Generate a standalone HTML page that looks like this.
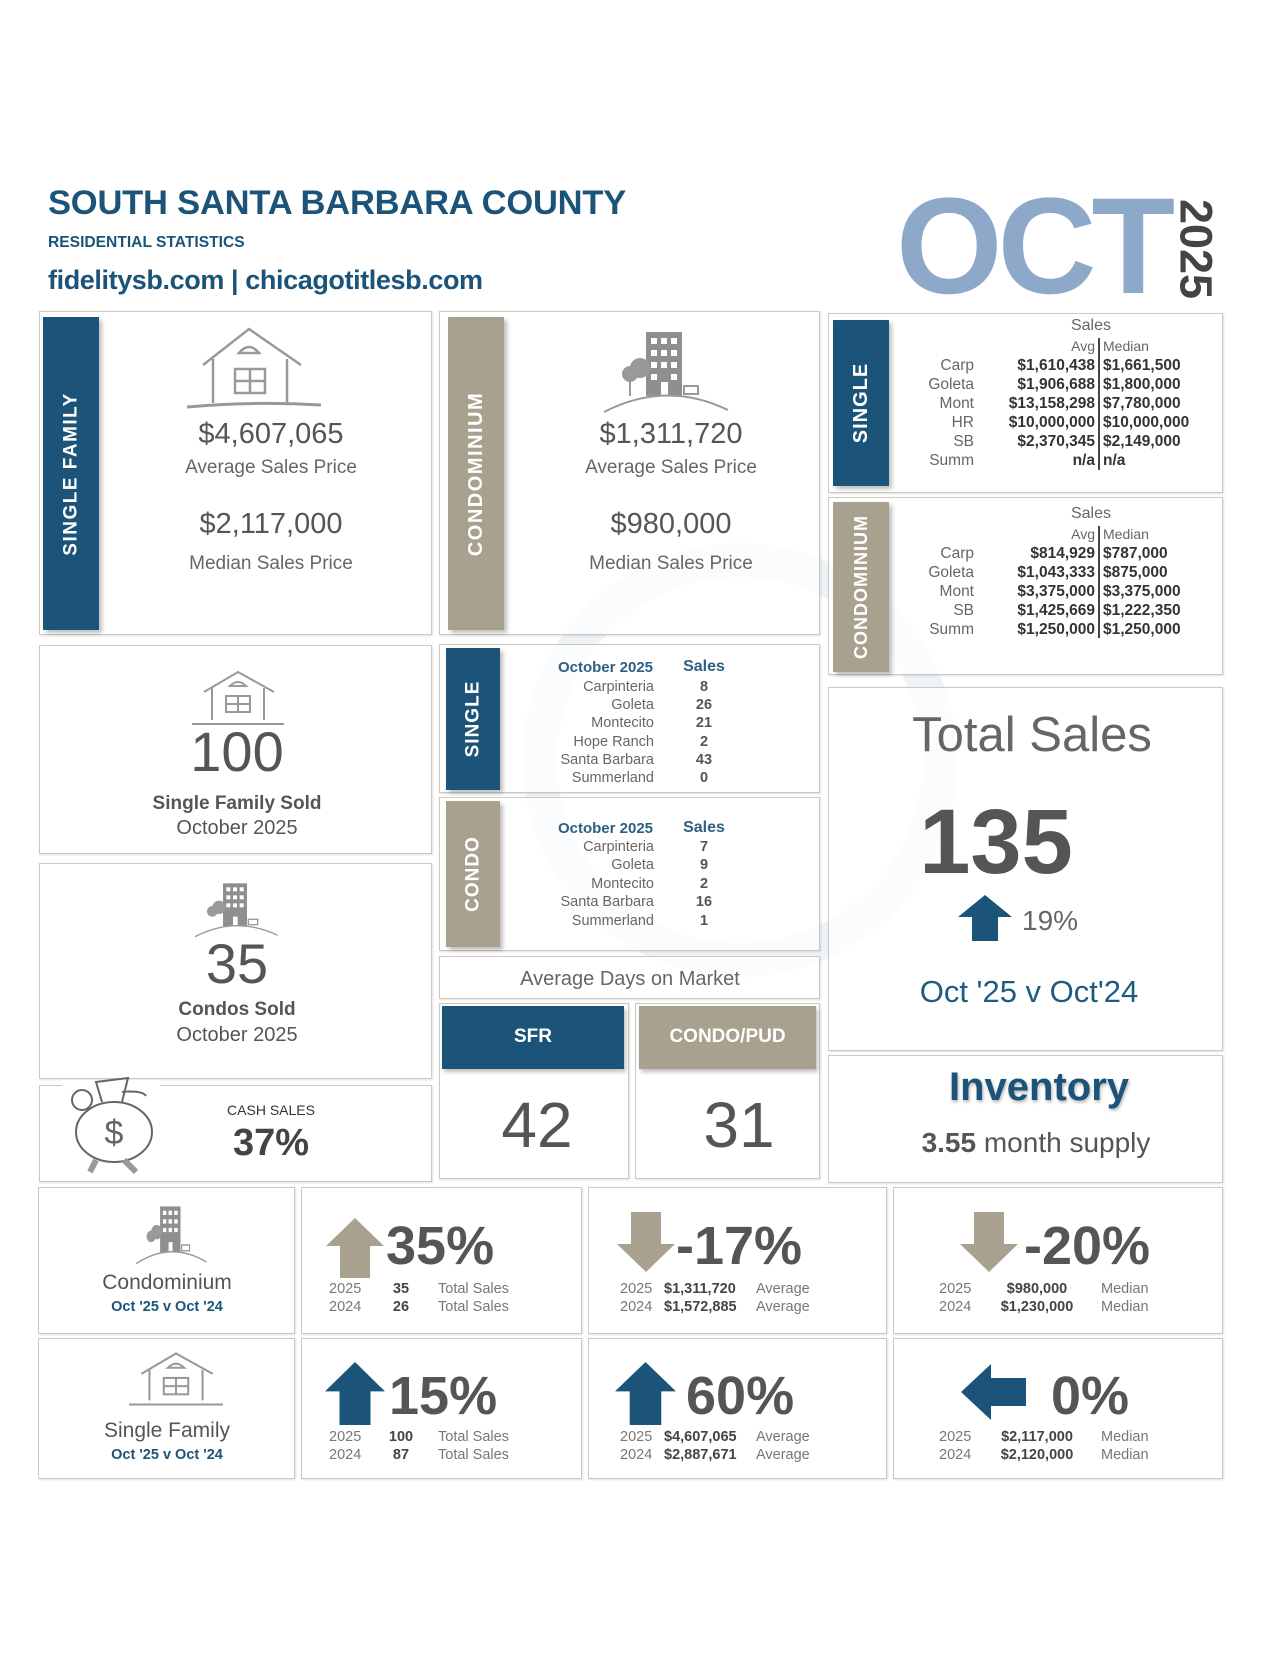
<!DOCTYPE html>
<html><head><meta charset="utf-8">
<style>
*{margin:0;padding:0;box-sizing:border-box}
body{width:1280px;height:1656px;background:#fff;position:relative;overflow:hidden;font-family:"Liberation Sans",sans-serif;color:#555}
.a{position:absolute}
.t{position:absolute;white-space:nowrap;line-height:1}
.c{text-align:center}
.r{text-align:right}
.b{font-weight:bold}
.box{position:absolute;border:1.5px solid #cdc9c0;box-shadow:1px 1px 2px rgba(0,0,0,.12);background:rgba(255,255,255,.7)}
.band{position:absolute;box-shadow:3px 3px 4px rgba(0,0,0,.25)}
.blue{background:#1b5478}
.tan{background:#a9a18f}
.vt{position:absolute;color:#fff;font-weight:bold;white-space:nowrap;line-height:1;transform:translate(-50%,-50%) rotate(-90deg);left:50%;top:50%}
</style></head>
<body>
<svg class="a" style="left:0;top:0" width="1280" height="1656">
<circle cx="740" cy="760" r="200" fill="none" stroke="#eef3f8" stroke-width="34"/>
</svg>

<div class="t b" style="left:48px;top:186px;font-size:34.5px;color:#1b5478;letter-spacing:-0.2px">SOUTH SANTA BARBARA COUNTY</div>
<div class="t b" style="left:48px;top:235px;font-size:15.6px;color:#1b5478">RESIDENTIAL STATISTICS</div>
<div class="t b" style="left:48px;top:267px;font-size:27px;color:#1b5478;letter-spacing:-0.4px">fidelitysb.com | chicagotitlesb.com</div>
<div class="t b" style="left:896px;top:178px;font-size:137px;color:#8ea8ca;letter-spacing:-5px">OCT</div>
<div class="t b" style="left:1196px;top:249px;font-size:45px;color:#444;transform:translate(-50%,-50%) rotate(90deg)">2025</div>

<!-- Single family box -->
<div class="box" style="left:39px;top:311px;width:393px;height:324px"></div>
<div class="band blue" style="left:43px;top:317px;width:56px;height:313px"><div class="vt" style="font-size:19px;letter-spacing:1.5px">SINGLE FAMILY</div></div>
<svg class="a" style="left:183px;top:325px" width="142" height="86" viewBox="0 0 142 86" fill="none" stroke="#999" stroke-width="2.5">
<path d="M20 40 L66 4 L118 40"/><path d="M30 34 V78 M104 34 V78"/><path d="M56 28 Q66 16 76 28 Z"/><rect x="52" y="44" width="30" height="24"/><path d="M67 44V68 M52 56H82"/><path d="M4 82 Q70 76 138 80" stroke-width="3"/></svg>
<div class="t c" style="left:71px;width:400px;top:420px;font-size:29px;color:#555">$4,607,065</div>
<div class="t c" style="left:71px;width:400px;top:458px;font-size:19px;color:#666">Average Sales Price</div>
<div class="t c" style="left:71px;width:400px;top:510px;font-size:29px;color:#555">$2,117,000</div>
<div class="t c" style="left:71px;width:400px;top:554px;font-size:19px;color:#666">Median Sales Price</div>

<!-- Condo box -->
<div class="box" style="left:439px;top:311px;width:381px;height:324px"></div>
<div class="band tan" style="left:448px;top:317px;width:56px;height:313px"><div class="vt" style="font-size:20px;letter-spacing:1.5px">CONDOMINIUM</div></div>
<svg class="a" style="left:600px;top:330px" width="134" height="84" viewBox="0 0 134 84">
<rect x="46" y="2" width="36" height="64" fill="#8f8f8f"/>
<g fill="#fff"><rect x="51" y="8" width="6" height="6"/><rect x="61" y="8" width="6" height="6"/><rect x="71" y="8" width="6" height="6"/><rect x="51" y="20" width="6" height="6"/><rect x="61" y="20" width="6" height="6"/><rect x="71" y="20" width="6" height="6"/><rect x="51" y="32" width="6" height="6"/><rect x="61" y="32" width="6" height="6"/><rect x="71" y="32" width="6" height="6"/><rect x="51" y="44" width="6" height="6"/><rect x="71" y="44" width="6" height="6"/><rect x="61" y="52" width="7" height="14"/></g>
<circle cx="30" cy="44" r="8" fill="#999"/><circle cx="40" cy="38" r="10" fill="#999"/><rect x="29" y="48" width="2" height="18" fill="#999"/><rect x="84" y="56" width="14" height="8" fill="none" stroke="#999" stroke-width="2"/>
<path d="M4 82 Q66 50 128 80" fill="none" stroke="#999" stroke-width="2"/></svg>
<div class="t c" style="left:471px;width:400px;top:420px;font-size:29px;color:#555">$1,311,720</div>
<div class="t c" style="left:471px;width:400px;top:458px;font-size:19px;color:#666">Average Sales Price</div>
<div class="t c" style="left:471px;width:400px;top:510px;font-size:29px;color:#555">$980,000</div>
<div class="t c" style="left:471px;width:400px;top:554px;font-size:19px;color:#666">Median Sales Price</div>

<!-- Right single table -->
<div class="box" style="left:828px;top:313px;width:395px;height:180px"></div>
<div class="band blue" style="left:833px;top:320px;width:56px;height:166px"><div class="vt" style="font-size:20px;letter-spacing:1px">SINGLE</div></div>
<div class="a" style="left:1098px;top:338px;width:1.5px;height:132px;background:#444"></div>
<div class="t c" style="left:1041px;width:100px;top:318px;font-size:16px;color:#666">Sales</div>
<div class="t r" style="left:1000px;width:95px;top:339px;font-size:14px;color:#666">Avg</div>
<div class="t" style="left:1103px;top:339px;font-size:14px;color:#666">Median</div>
<div style="font-size:15.5px">
<div class="t r" style="left:900px;width:74px;top:358px;color:#666">Carp</div><div class="t r b" style="left:980px;width:115px;top:358px;color:#333">$1,610,438</div><div class="t b" style="left:1103px;top:358px;color:#333">$1,661,500</div>
<div class="t r" style="left:900px;width:74px;top:377px;color:#666">Goleta</div><div class="t r b" style="left:980px;width:115px;top:377px;color:#333">$1,906,688</div><div class="t b" style="left:1103px;top:377px;color:#333">$1,800,000</div>
<div class="t r" style="left:900px;width:74px;top:396px;color:#666">Mont</div><div class="t r b" style="left:980px;width:115px;top:396px;color:#333">$13,158,298</div><div class="t b" style="left:1103px;top:396px;color:#333">$7,780,000</div>
<div class="t r" style="left:900px;width:74px;top:415px;color:#666">HR</div><div class="t r b" style="left:980px;width:115px;top:415px;color:#333">$10,000,000</div><div class="t b" style="left:1103px;top:415px;color:#333">$10,000,000</div>
<div class="t r" style="left:900px;width:74px;top:434px;color:#666">SB</div><div class="t r b" style="left:980px;width:115px;top:434px;color:#333">$2,370,345</div><div class="t b" style="left:1103px;top:434px;color:#333">$2,149,000</div>
<div class="t r" style="left:900px;width:74px;top:453px;color:#666">Summ</div><div class="t r b" style="left:980px;width:115px;top:453px;color:#333">n/a</div><div class="t b" style="left:1103px;top:453px;color:#333">n/a</div>
</div>

<!-- Right condo table -->
<div class="box" style="left:828px;top:497px;width:395px;height:178px"></div>
<div class="band tan" style="left:833px;top:502px;width:56px;height:170px"><div class="vt" style="font-size:18px;letter-spacing:1px">CONDOMINIUM</div></div>
<div class="a" style="left:1098px;top:526px;width:1.5px;height:112px;background:#444"></div>
<div class="t c" style="left:1041px;width:100px;top:506px;font-size:16px;color:#666">Sales</div>
<div class="t r" style="left:1000px;width:95px;top:527px;font-size:14px;color:#666">Avg</div>
<div class="t" style="left:1103px;top:527px;font-size:14px;color:#666">Median</div>
<div style="font-size:15.5px">
<div class="t r" style="left:900px;width:74px;top:546px;color:#666">Carp</div><div class="t r b" style="left:980px;width:115px;top:546px;color:#333">$814,929</div><div class="t b" style="left:1103px;top:546px;color:#333">$787,000</div>
<div class="t r" style="left:900px;width:74px;top:565px;color:#666">Goleta</div><div class="t r b" style="left:980px;width:115px;top:565px;color:#333">$1,043,333</div><div class="t b" style="left:1103px;top:565px;color:#333">$875,000</div>
<div class="t r" style="left:900px;width:74px;top:584px;color:#666">Mont</div><div class="t r b" style="left:980px;width:115px;top:584px;color:#333">$3,375,000</div><div class="t b" style="left:1103px;top:584px;color:#333">$3,375,000</div>
<div class="t r" style="left:900px;width:74px;top:603px;color:#666">SB</div><div class="t r b" style="left:980px;width:115px;top:603px;color:#333">$1,425,669</div><div class="t b" style="left:1103px;top:603px;color:#333">$1,222,350</div>
<div class="t r" style="left:900px;width:74px;top:622px;color:#666">Summ</div><div class="t r b" style="left:980px;width:115px;top:622px;color:#333">$1,250,000</div><div class="t b" style="left:1103px;top:622px;color:#333">$1,250,000</div>
</div>

<!-- SF sold -->
<div class="box" style="left:39px;top:645px;width:393px;height:209px"></div>
<svg class="a" style="left:190px;top:670px" width="96" height="56" viewBox="0 0 96 56" fill="none" stroke="#999" stroke-width="2">
<path d="M14 22 L48 2 L84 22"/><path d="M22 18V50 M74 18V50"/><path d="M40 16 Q48 8 56 16Z"/><rect x="36" y="26" width="24" height="16"/><path d="M48 26V42 M36 34H60"/><path d="M2 54H94"/></svg>
<div class="t c" style="left:37px;width:400px;top:724px;font-size:56px;color:#555">100</div>
<div class="t c b" style="left:37px;width:400px;top:794px;font-size:19px;color:#555">Single Family Sold</div>
<div class="t c" style="left:37px;width:400px;top:818px;font-size:20px;color:#555">October 2025</div>

<!-- Condo sold -->
<div class="box" style="left:39px;top:863px;width:393px;height:216px"></div>
<svg class="a" style="left:188px;top:882px" width="98" height="56" viewBox="0 0 134 84">
<rect x="46" y="2" width="36" height="64" fill="#8f8f8f"/>
<g fill="#fff"><rect x="51" y="8" width="6" height="6"/><rect x="61" y="8" width="6" height="6"/><rect x="71" y="8" width="6" height="6"/><rect x="51" y="20" width="6" height="6"/><rect x="61" y="20" width="6" height="6"/><rect x="71" y="20" width="6" height="6"/><rect x="51" y="32" width="6" height="6"/><rect x="61" y="32" width="6" height="6"/><rect x="71" y="32" width="6" height="6"/><rect x="61" y="52" width="7" height="14"/></g>
<circle cx="30" cy="44" r="8" fill="#999"/><circle cx="40" cy="38" r="10" fill="#999"/><rect x="84" y="56" width="14" height="8" fill="none" stroke="#999" stroke-width="2"/>
<path d="M4 82 Q66 50 128 80" fill="none" stroke="#999" stroke-width="2"/></svg>
<div class="t c" style="left:37px;width:400px;top:936px;font-size:56px;color:#555">35</div>
<div class="t c b" style="left:37px;width:400px;top:1000px;font-size:19px;color:#555">Condos Sold</div>
<div class="t c" style="left:37px;width:400px;top:1025px;font-size:20px;color:#555">October 2025</div>

<!-- Cash sales -->
<div class="box" style="left:39px;top:1085px;width:393px;height:97px"></div>
<svg class="a" style="left:62px;top:1072px" width="98" height="104" viewBox="0 0 98 104" fill="none" stroke="#666" stroke-width="2">
<rect x="0" y="8" width="98" height="96" fill="#fff" stroke="none"/>
<ellipse cx="52" cy="60" rx="38" ry="30" fill="#fff"/><path d="M40 30 L34 10 L66 6 L60 30"/><path d="M60 20 Q80 18 84 24"/><circle cx="20" cy="28" r="10" fill="#fff"/>
<text x="52" y="72" font-family="Liberation Sans" font-size="34" fill="#666" stroke="none" text-anchor="middle">$</text>
<path d="M34 88 L28 100 M62 88 L74 100" stroke-width="6" stroke="#999"/></svg>
<div class="t c" style="left:171px;width:200px;top:1103px;font-size:14px;color:#333">CASH SALES</div>
<div class="t c b" style="left:171px;width:200px;top:1124px;font-size:38px;color:#444">37%</div>

<!-- Middle single sales -->
<div class="box" style="left:439px;top:644px;width:381px;height:149px"></div>
<div class="band blue" style="left:446px;top:648px;width:54px;height:142px"><div class="vt" style="font-size:19px;letter-spacing:1px">SINGLE</div></div>
<div class="t r b" style="left:500px;width:153px;top:660px;font-size:15px;color:#2c5f80">October 2025</div>
<div class="t c b" style="left:664px;width:80px;top:659px;font-size:16px;color:#2c5f80">Sales</div>
<div style="font-size:14.5px">
<div class="t r" style="left:500px;width:154px;top:680px;color:#666">Carpinteria</div><div class="t c b" style="left:674px;width:60px;top:680px;color:#555">8</div>
<div class="t r" style="left:500px;width:154px;top:698px;color:#666">Goleta</div><div class="t c b" style="left:674px;width:60px;top:698px;color:#555">26</div>
<div class="t r" style="left:500px;width:154px;top:716px;color:#666">Montecito</div><div class="t c b" style="left:674px;width:60px;top:716px;color:#555">21</div>
<div class="t r" style="left:500px;width:154px;top:735px;color:#666">Hope Ranch</div><div class="t c b" style="left:674px;width:60px;top:735px;color:#555">2</div>
<div class="t r" style="left:500px;width:154px;top:753px;color:#666">Santa Barbara</div><div class="t c b" style="left:674px;width:60px;top:753px;color:#555">43</div>
<div class="t r" style="left:500px;width:154px;top:771px;color:#666">Summerland</div><div class="t c b" style="left:674px;width:60px;top:771px;color:#555">0</div>
</div>

<!-- Middle condo sales -->
<div class="box" style="left:439px;top:797px;width:381px;height:154px"></div>
<div class="band tan" style="left:446px;top:801px;width:54px;height:146px"><div class="vt" style="font-size:19px;letter-spacing:1px">CONDO</div></div>
<div class="t r b" style="left:500px;width:153px;top:821px;font-size:15px;color:#2c5f80">October 2025</div>
<div class="t c b" style="left:664px;width:80px;top:820px;font-size:16px;color:#2c5f80">Sales</div>
<div style="font-size:14.5px">
<div class="t r" style="left:500px;width:154px;top:840px;color:#666">Carpinteria</div><div class="t c b" style="left:674px;width:60px;top:840px;color:#555">7</div>
<div class="t r" style="left:500px;width:154px;top:858px;color:#666">Goleta</div><div class="t c b" style="left:674px;width:60px;top:858px;color:#555">9</div>
<div class="t r" style="left:500px;width:154px;top:877px;color:#666">Montecito</div><div class="t c b" style="left:674px;width:60px;top:877px;color:#555">2</div>
<div class="t r" style="left:500px;width:154px;top:895px;color:#666">Santa Barbara</div><div class="t c b" style="left:674px;width:60px;top:895px;color:#555">16</div>
<div class="t r" style="left:500px;width:154px;top:914px;color:#666">Summerland</div><div class="t c b" style="left:674px;width:60px;top:914px;color:#555">1</div>
</div>

<!-- Avg days -->
<div class="box" style="left:439px;top:956px;width:381px;height:43px"></div>
<div class="t c" style="left:430px;width:400px;top:969px;font-size:20px;color:#666">Average Days on Market</div>
<div class="box" style="left:439px;top:1003px;width:190px;height:176px"></div>
<div class="band blue" style="left:442px;top:1006px;width:182px;height:63px;box-shadow:2px 3px 4px rgba(0,0,0,.25)"></div>
<div class="t c b" style="left:442px;width:182px;top:1027px;font-size:19px;color:#fff">SFR</div>
<div class="t c" style="left:437px;width:200px;top:1093px;font-size:64px;color:#555">42</div>
<div class="box" style="left:635px;top:1003px;width:185px;height:176px"></div>
<div class="band tan" style="left:639px;top:1006px;width:177px;height:63px;box-shadow:2px 3px 4px rgba(0,0,0,.25)"></div>
<div class="t c b" style="left:639px;width:177px;top:1027px;font-size:19px;color:#fff">CONDO/PUD</div>
<div class="t c" style="left:639px;width:200px;top:1093px;font-size:64px;color:#555">31</div>

<!-- Total sales -->
<div class="box" style="left:828px;top:687px;width:395px;height:364px"></div>
<div class="t c" style="left:832px;width:400px;top:711px;font-size:49px;color:#666">Total Sales</div>
<div class="t c b" style="left:796px;width:400px;top:796px;font-size:92px;color:#555">135</div>
<svg class="a" style="left:958px;top:895px" width="54" height="46" viewBox="0 0 54 46"><polygon points="27,0 54,22 40,22 40,46 14,46 14,22 0,22" fill="#1b5478"/></svg>
<div class="t" style="left:1022px;top:907px;font-size:28px;color:#666">19%</div>
<div class="t c" style="left:829px;width:400px;top:976px;font-size:31px;color:#1f5a7f">Oct '25 v Oct'24</div>

<!-- Inventory -->
<div class="box" style="left:828px;top:1055px;width:395px;height:128px"></div>
<div class="t c b" style="left:839px;width:400px;top:1067px;font-size:40px;color:#1b5478;text-shadow:1px 2px 3px rgba(0,0,0,.3)">Inventory</div>
<div class="t c" style="left:836px;width:400px;top:1129px;font-size:28px;color:#555"><b>3.55</b> month supply</div>

<!-- Bottom row 1: condo -->
<div class="box" style="left:38px;top:1187px;width:257px;height:147px"></div>
<svg class="a" style="left:134px;top:1205px" width="76" height="60" viewBox="0 0 134 84" preserveAspectRatio="none">
<rect x="46" y="2" width="36" height="64" fill="#8f8f8f"/>
<g fill="#fff"><rect x="51" y="8" width="6" height="6"/><rect x="61" y="8" width="6" height="6"/><rect x="71" y="8" width="6" height="6"/><rect x="51" y="20" width="6" height="6"/><rect x="61" y="20" width="6" height="6"/><rect x="71" y="20" width="6" height="6"/><rect x="51" y="32" width="6" height="6"/><rect x="61" y="32" width="6" height="6"/><rect x="71" y="32" width="6" height="6"/><rect x="61" y="52" width="7" height="14"/></g>
<circle cx="30" cy="44" r="8" fill="#999"/><circle cx="40" cy="38" r="10" fill="#999"/><rect x="84" y="56" width="14" height="8" fill="none" stroke="#999" stroke-width="2"/>
<path d="M4 82 Q66 50 128 80" fill="none" stroke="#999" stroke-width="2"/></svg>
<div class="t c" style="left:67px;width:200px;top:1272px;font-size:21px;color:#555">Condominium</div>
<div class="t c b" style="left:67px;width:200px;top:1300px;font-size:14.5px;color:#1b5478">Oct '25 v Oct '24</div>

<div class="box" style="left:301px;top:1187px;width:281px;height:147px"></div>
<svg class="a" style="left:326px;top:1218px" width="58" height="60" viewBox="0 0 58 60"><polygon points="29,0 58,28 44,28 44,60 14,60 14,28 0,28" fill="#a9a18f"/></svg>
<div class="t b" style="left:386px;top:1219px;font-size:54px;color:#555">35%</div>
<div class="t" style="left:329px;top:1282px;font-size:14.5px;color:#777">2025</div><div class="t c b" style="left:381px;width:40px;top:1282px;font-size:14.5px;color:#444">35</div><div class="t" style="left:438px;top:1282px;font-size:14.5px;color:#777">Total Sales</div>
<div class="t" style="left:329px;top:1300px;font-size:14.5px;color:#777">2024</div><div class="t c b" style="left:381px;width:40px;top:1300px;font-size:14.5px;color:#444">26</div><div class="t" style="left:438px;top:1300px;font-size:14.5px;color:#777">Total Sales</div>

<div class="box" style="left:588px;top:1187px;width:299px;height:147px"></div>
<svg class="a" style="left:617px;top:1212px" width="58" height="60" viewBox="0 0 58 60"><polygon points="14,0 44,0 44,32 58,32 29,60 0,32 14,32" fill="#a9a18f"/></svg>
<div class="t b" style="left:676px;top:1219px;font-size:54px;color:#555">-17%</div>
<div class="t" style="left:620px;top:1282px;font-size:14.5px;color:#777">2025</div><div class="t b" style="left:664px;top:1282px;font-size:14.5px;color:#444">$1,311,720</div><div class="t" style="left:756px;top:1282px;font-size:14.5px;color:#777">Average</div>
<div class="t" style="left:620px;top:1300px;font-size:14.5px;color:#777">2024</div><div class="t b" style="left:664px;top:1300px;font-size:14.5px;color:#444">$1,572,885</div><div class="t" style="left:756px;top:1300px;font-size:14.5px;color:#777">Average</div>

<div class="box" style="left:893px;top:1187px;width:330px;height:147px"></div>
<svg class="a" style="left:959px;top:1212px" width="60" height="60" viewBox="0 0 58 60"><polygon points="14,0 44,0 44,32 58,32 29,60 0,32 14,32" fill="#a9a18f"/></svg>
<div class="t b" style="left:1024px;top:1219px;font-size:54px;color:#555">-20%</div>
<div class="t" style="left:939px;top:1282px;font-size:14.5px;color:#777">2025</div><div class="t c b" style="left:982px;width:110px;top:1282px;font-size:14.5px;color:#444">$980,000</div><div class="t" style="left:1101px;top:1282px;font-size:14.5px;color:#777">Median</div>
<div class="t" style="left:939px;top:1300px;font-size:14.5px;color:#777">2024</div><div class="t c b" style="left:982px;width:110px;top:1300px;font-size:14.5px;color:#444">$1,230,000</div><div class="t" style="left:1101px;top:1300px;font-size:14.5px;color:#777">Median</div>

<!-- Bottom row 2: single family -->
<div class="box" style="left:38px;top:1338px;width:257px;height:141px"></div>
<svg class="a" style="left:127px;top:1350px" width="98" height="60" viewBox="0 0 96 56" fill="none" stroke="#999" stroke-width="2">
<path d="M14 22 L48 2 L84 22"/><path d="M22 18V48 M74 18V48"/><path d="M40 16 Q48 8 56 16Z"/><rect x="36" y="26" width="24" height="16"/><path d="M48 26V42 M36 34H60"/><path d="M2 52H94"/></svg>
<div class="t c" style="left:67px;width:200px;top:1420px;font-size:21px;color:#555">Single Family</div>
<div class="t c b" style="left:67px;width:200px;top:1448px;font-size:14.5px;color:#1b5478">Oct '25 v Oct '24</div>

<div class="box" style="left:301px;top:1338px;width:281px;height:141px"></div>
<svg class="a" style="left:325px;top:1362px" width="60" height="63" viewBox="0 0 58 60" preserveAspectRatio="none"><polygon points="29,0 58,28 44,28 44,60 14,60 14,28 0,28" fill="#1b5478"/></svg>
<div class="t b" style="left:389px;top:1369px;font-size:54px;color:#555">15%</div>
<div class="t" style="left:329px;top:1430px;font-size:14.5px;color:#777">2025</div><div class="t c b" style="left:381px;width:40px;top:1430px;font-size:14.5px;color:#444">100</div><div class="t" style="left:438px;top:1430px;font-size:14.5px;color:#777">Total Sales</div>
<div class="t" style="left:329px;top:1448px;font-size:14.5px;color:#777">2024</div><div class="t c b" style="left:381px;width:40px;top:1448px;font-size:14.5px;color:#444">87</div><div class="t" style="left:438px;top:1448px;font-size:14.5px;color:#777">Total Sales</div>

<div class="box" style="left:588px;top:1338px;width:299px;height:141px"></div>
<svg class="a" style="left:615px;top:1362px" width="61" height="63" viewBox="0 0 58 60" preserveAspectRatio="none"><polygon points="29,0 58,28 44,28 44,60 14,60 14,28 0,28" fill="#1b5478"/></svg>
<div class="t b" style="left:686px;top:1369px;font-size:54px;color:#555">60%</div>
<div class="t" style="left:620px;top:1430px;font-size:14.5px;color:#777">2025</div><div class="t b" style="left:664px;top:1430px;font-size:14.5px;color:#444">$4,607,065</div><div class="t" style="left:756px;top:1430px;font-size:14.5px;color:#777">Average</div>
<div class="t" style="left:620px;top:1448px;font-size:14.5px;color:#777">2024</div><div class="t b" style="left:664px;top:1448px;font-size:14.5px;color:#444">$2,887,671</div><div class="t" style="left:756px;top:1448px;font-size:14.5px;color:#777">Average</div>

<div class="box" style="left:893px;top:1338px;width:330px;height:141px"></div>
<svg class="a" style="left:961px;top:1364px" width="65" height="56" viewBox="0 0 65 56"><polygon points="0,28 30,0 30,14 65,14 65,42 30,42 30,56" fill="#1b5478"/></svg>
<div class="t b" style="left:1051px;top:1369px;font-size:54px;color:#555">0%</div>
<div class="t" style="left:939px;top:1430px;font-size:14.5px;color:#777">2025</div><div class="t c b" style="left:982px;width:110px;top:1430px;font-size:14.5px;color:#444">$2,117,000</div><div class="t" style="left:1101px;top:1430px;font-size:14.5px;color:#777">Median</div>
<div class="t" style="left:939px;top:1448px;font-size:14.5px;color:#777">2024</div><div class="t c b" style="left:982px;width:110px;top:1448px;font-size:14.5px;color:#444">$2,120,000</div><div class="t" style="left:1101px;top:1448px;font-size:14.5px;color:#777">Median</div>
</body></html>
